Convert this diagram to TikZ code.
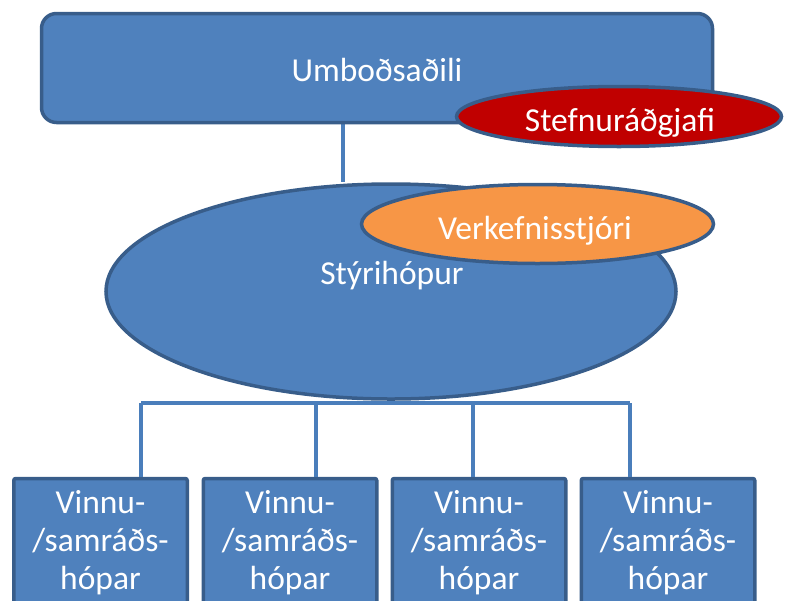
\documentclass[tikz,border=0pt]{standalone}
\usepackage{fontspec}
\setmainfont{Carlito}
\usetikzlibrary{shapes.geometric,backgrounds}
\definecolor{boxblue}{HTML}{4F81BD}
\definecolor{edgeblue}{HTML}{385D8A}
\definecolor{linkblue}{HTML}{4A7EBB}
\definecolor{advred}{HTML}{C00000}
\definecolor{pmorange}{HTML}{F79646}
\tikzset{
  lbl/.style={text=white,font=\fontsize{33.5}{38}\selectfont,align=center,inner sep=0pt},
  unit/.style={draw=edgeblue,line width=3.5pt,inner sep=0pt},
  bluebox/.style={unit,fill=boxblue,rectangle},
  blueoval/.style={unit,fill=boxblue,ellipse},
  redoval/.style={unit,fill=advred,ellipse},
  orangeoval/.style={unit,fill=pmorange,ellipse},
  link/.style={draw=linkblue,line width=4pt}
}
\begin{document}
\begin{tikzpicture}[x=1pt,y=-1pt]
\useasboundingbox (0,0) rectangle (791,600);
\clip (0,0) rectangle (791,600);
% top authority box
\node[bluebox,rounded corners=15pt,minimum width=671pt,minimum height=109pt] (mandate) at (377,68) {};
\node[lbl,anchor=base] (mandatetext) at (377,81) {Umboðsaðili};
\node[redoval,minimum width=325pt,minimum height=60pt] (advisor) at (619,116.5) {};
\node[lbl,anchor=base] (advisortext) at (620,131) {Stefnuráðgjafi};
% steering group with project manager
\node[blueoval,minimum width=570pt,minimum height=215pt] (steer) at (391,291.5) {};
\node[lbl,anchor=base] (steertext) at (392,284) {Stýrihópur};
\node[orangeoval,minimum width=352pt,minimum height=79pt] (pm) at (537.5,224) {};
\node[lbl,anchor=base] (pmtext) at (535,239) {Verkefnisstjóri};
% link down to the steering group
\coordinate (mdrop) at (343,124);
\begin{scope}[on background layer]
  \draw[link] (mdrop) -- (mdrop |- steer.north);
\end{scope}
% working groups
\foreach \i/\cx in {1/100.5,2/290,3/479,4/668}{
  \node[bluebox,rounded corners=2pt,minimum width=173.5pt,minimum height=170pt,anchor=north] (g\i) at (\cx,476.75) {};
  \node[lbl] (gt\i) at (\cx,543) {Vinnu-\\/samráðs-\\hópar};
}
% bus and drops
\foreach \i/\dx in {1/141,2/316,3/473,4/630}{
  \coordinate (d\i) at (\dx,403);
}
\draw[link] (d1) -- (d4);
\foreach \i in {1,...,4}{
  \draw[link] (d\i) -- (d\i |- g\i.north);
}
\end{tikzpicture}
\end{document}
